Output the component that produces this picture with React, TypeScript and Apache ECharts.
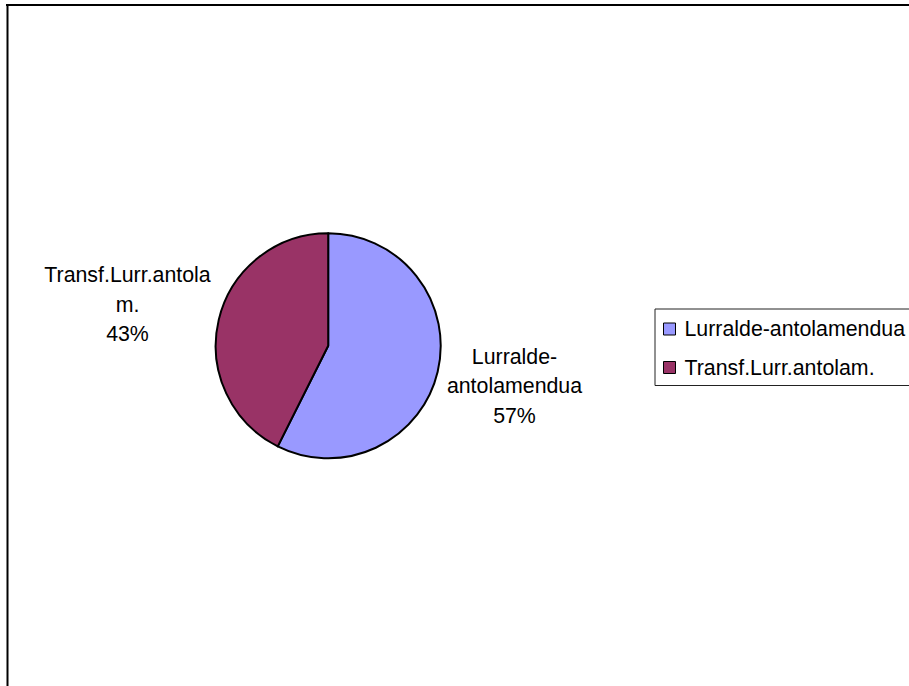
import React, { useEffect, useRef } from "react";
import * as echarts from "echarts";

const categories = ["Lurralde-antolamendua", "Transf.Lurr.antolam."];
const values = [57.4, 42.6];
const labelTexts = ["Lurralde-\nantolamendua", "Transf.Lurr.antola\nm."];
const colors = ["#9999FF", "#993366"];
const labelLineLens = [62.5, 65.5];
const labelLineLens2 = [11, 22.5];

const FONT = "'Liberation Sans', Arial, sans-serif";

export default function App() {
  const ref = useRef<HTMLDivElement>(null);
  useEffect(() => {
    if (!ref.current) return;
    const chart = echarts.init(ref.current, undefined, { renderer: "svg" });
    const data = categories.map((name, i) => ({
      name,
      value: values[i],
      itemStyle: { color: colors[i] },
      labelLine: { show: false, length: labelLineLens[i], length2: labelLineLens2[i] },
    }));
    chart.setOption({
      animation: false,
      backgroundColor: "#ffffff",
      graphic: [
        {
          type: "line",
          shape: { x1: 6, y1: 5, x2: 909, y2: 5 },
          style: { stroke: "#000", lineWidth: 2 },
        },
        {
          type: "line",
          shape: { x1: 7.5, y1: 4, x2: 7.5, y2: 686 },
          style: { stroke: "#000", lineWidth: 2 },
        },
      ],
      legend: {
        orient: "vertical",
        left: 655,
        top: 309,
        padding: [8, 40, 6, 8],
        itemGap: 14.5,
        itemWidth: 12,
        itemHeight: 12,
        icon: "rect",
        borderColor: "#222",
        borderWidth: 1,
        borderRadius: 0,
        itemStyle: { borderColor: "#000", borderWidth: 1 },
        textStyle: {
          fontFamily: FONT,
          fontSize: 21.33,
          color: "#000",
          lineHeight: 24,
          padding: [0, 0, 0, 4],
        },
        data: categories,
      },
      series: [
        {
          type: "pie",
          center: [328.2, 345.8],
          radius: 112.5,
          startAngle: 90,
          clockwise: true,
          avoidLabelOverlap: false,
          itemStyle: { borderColor: "#000", borderWidth: 2 },
          emphasis: { disabled: true },
          label: {
            show: true,
            position: "outside",
            fontFamily: FONT,
            fontSize: 21.33,
            color: "#000",
            lineHeight: 29.5,
            width: 240,
            overflow: "none",
            formatter: (p: any) => `${labelTexts[p.dataIndex]}\n${Math.round(p.percent)}%`,
          },
          labelLayout: () => ({ align: "center" }),
          data,
        },
      ],
    });
    return () => chart.dispose();
  }, []);
  return (
    <div
      ref={ref}
      style={{ position: "fixed", left: 0, top: 0, width: 909, height: 686 }}
    />
  );
}
